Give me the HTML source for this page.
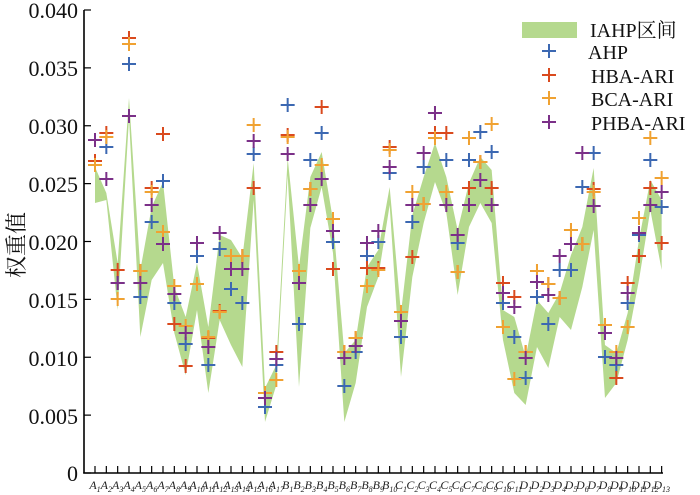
<!DOCTYPE html>
<html><head><meta charset="utf-8"><style>
html,body{margin:0;padding:0;background:#fff;}
svg{display:block;font-family:"Liberation Serif","Noto Serif CJK SC",serif;}
</style></head><body>
<svg id="s" width="700" height="495" viewBox="0 0 700 495" xmlns="http://www.w3.org/2000/svg">
<g id="band"></g>
<g id="marks"></g>
<line x1="84" y1="10" x2="84" y2="473.5" stroke="#000" stroke-width="1.6"/>
<line x1="83.2" y1="473" x2="663" y2="473" stroke="#000" stroke-width="1.6"/>
<g id="ticks" stroke="#000" stroke-width="1.2"></g>
<g font-size="22" text-anchor="end" fill="#111">
<text x="78" y="18">0.040</text>
<text x="78" y="76">0.035</text>
<text x="78" y="134">0.030</text>
<text x="78" y="192">0.025</text>
<text x="78" y="250">0.020</text>
<text x="78" y="308">0.015</text>
<text x="78" y="366">0.010</text>
<text x="78" y="424">0.005</text>
<text x="78" y="481">0</text>
</g>
<text x="0" y="0" font-size="22" fill="#111" text-anchor="middle" transform="translate(24,245) rotate(-90)">权重值</text>
<g id="xl" font-size="12" font-style="italic" fill="#222" text-anchor="middle"></g>
<rect x="522" y="22" width="55" height="16" fill="#b5d98e"/>
<g font-size="20" fill="#111">
<text x="590" y="37">IAHP区间</text>
<text x="588" y="59">AHP</text>
<text x="591" y="83">HBA-ARI</text>
<text x="591" y="106">BCA-ARI</text>
<text x="591" y="130">PHBA-ARI</text>
</g>
<g id="leg"></g>
</svg>
<script>
var X=function(i){return 95+11.333*i;};
var blue=[140,147,283,64,297,222,181,303,344,256,365,249,289,303,154,407,365,105,324,160,133,242,386,352,256,242,173,337,222,167,113,160,243,160,132,152,303,337,378,297,324,270,270,187,153,357,365,303,235,160,207];
var red=[161,133,270,38,271,188,134,324,366,284,338,311,256,256,188,393,352,135,271,189,107,269,352,338,268,268,147,312,257,204,133,133,272,188,162,188,283,297,352,271,284,298,230,244,189,325,378,283,256,188,243];
var orange=[165,137,299,44,271,192,232,286,326,284,337,312,256,256,125,393,380,137,271,189,165,219,352,338,286,270,150,312,192,204,138,192,272,138,162,124,327,379,352,271,284,298,230,244,192,325,352,327,218,138,178];
var purple=[140,179,283,116,283,205,244,294,333,243,347,233,269,269,141,398,359,154,283,205,179,231,358,346,243,231,167,321,205,153,113,205,235,205,180,205,293,307,358,282,295,256,244,153,206,333,358,293,233,205,192];
var band=[[167,203],[193,200],[263,310],[98,118],[270,337],[207,280],[182,263],[287,333],[317,375],[263,310],[327,393],[235,320],[240,345],[258,367],[163,200],[388,422],[365,385],[158,175],[267,387],[177,228],[152,187],[220,253],[353,422],[340,383],[267,307],[250,277],[187,205],[313,377],[215,277],[177,223],[143,182],[177,213],[230,295],[183,227],[157,203],[170,223],[310,340],[317,393],[357,405],[300,347],[313,368],[293,317],[255,330],[227,287],[168,230],[345,398],[353,383],[313,340],[240,280],[180,210],[200,270]];
var NS="http://www.w3.org/2000/svg";
function el(t,a,p){var e=document.createElementNS(NS,t);for(var k in a)e.setAttribute(k,a[k]);document.getElementById(p).appendChild(e);return e;}
var pts=[];for(var i=0;i<51;i++)pts.push(X(i)+","+band[i][0]);
for(var i=50;i>=0;i--)pts.push(X(i)+","+band[i][1]);
el("polygon",{points:pts.join(" "),fill:"#b5d98e"},"band");
function plus(x,y,c,g){el("path",{d:"M"+(x-7)+" "+y+"h14M"+x+" "+(y-7)+"v14",stroke:c,"stroke-width":2,fill:"none"},g);}
var S=[[blue,"#3c68b2"],[red,"#da4a1e"],[orange,"#f0a232"],[purple,"#7b3088"]];
S.forEach(function(s){for(var i=0;i<51;i++)plus(X(i),s[0][i],s[1],"marks");});
plus(549,51,"#3c68b2","leg");plus(549,75,"#da4a1e","leg");plus(549,98,"#f0a232","leg");plus(549,122,"#7b3088","leg");
for(var v=0;v<=8;v++){var y=473-v*57.875;el("line",{x1:84,y1:y,x2:91,y2:y},"ticks");}
var labs=[];
for(var i=1;i<=17;i++)labs.push(["A",i]);for(var i=1;i<=10;i++)labs.push(["B",i]);
for(var i=1;i<=11;i++)labs.push(["C",i]);for(var i=1;i<=13;i++)labs.push(["D",i]);
labs.forEach(function(l,i){var x=X(i);el("line",{x1:x,y1:473,x2:x,y2:466},"ticks");
var t=el("text",{x:x,y:489},"xl");t.textContent=l[0];var s=document.createElementNS(NS,"tspan");s.setAttribute("font-size","8");s.setAttribute("dy","3");s.textContent=l[1];t.appendChild(s);});
</script>
</body></html>
